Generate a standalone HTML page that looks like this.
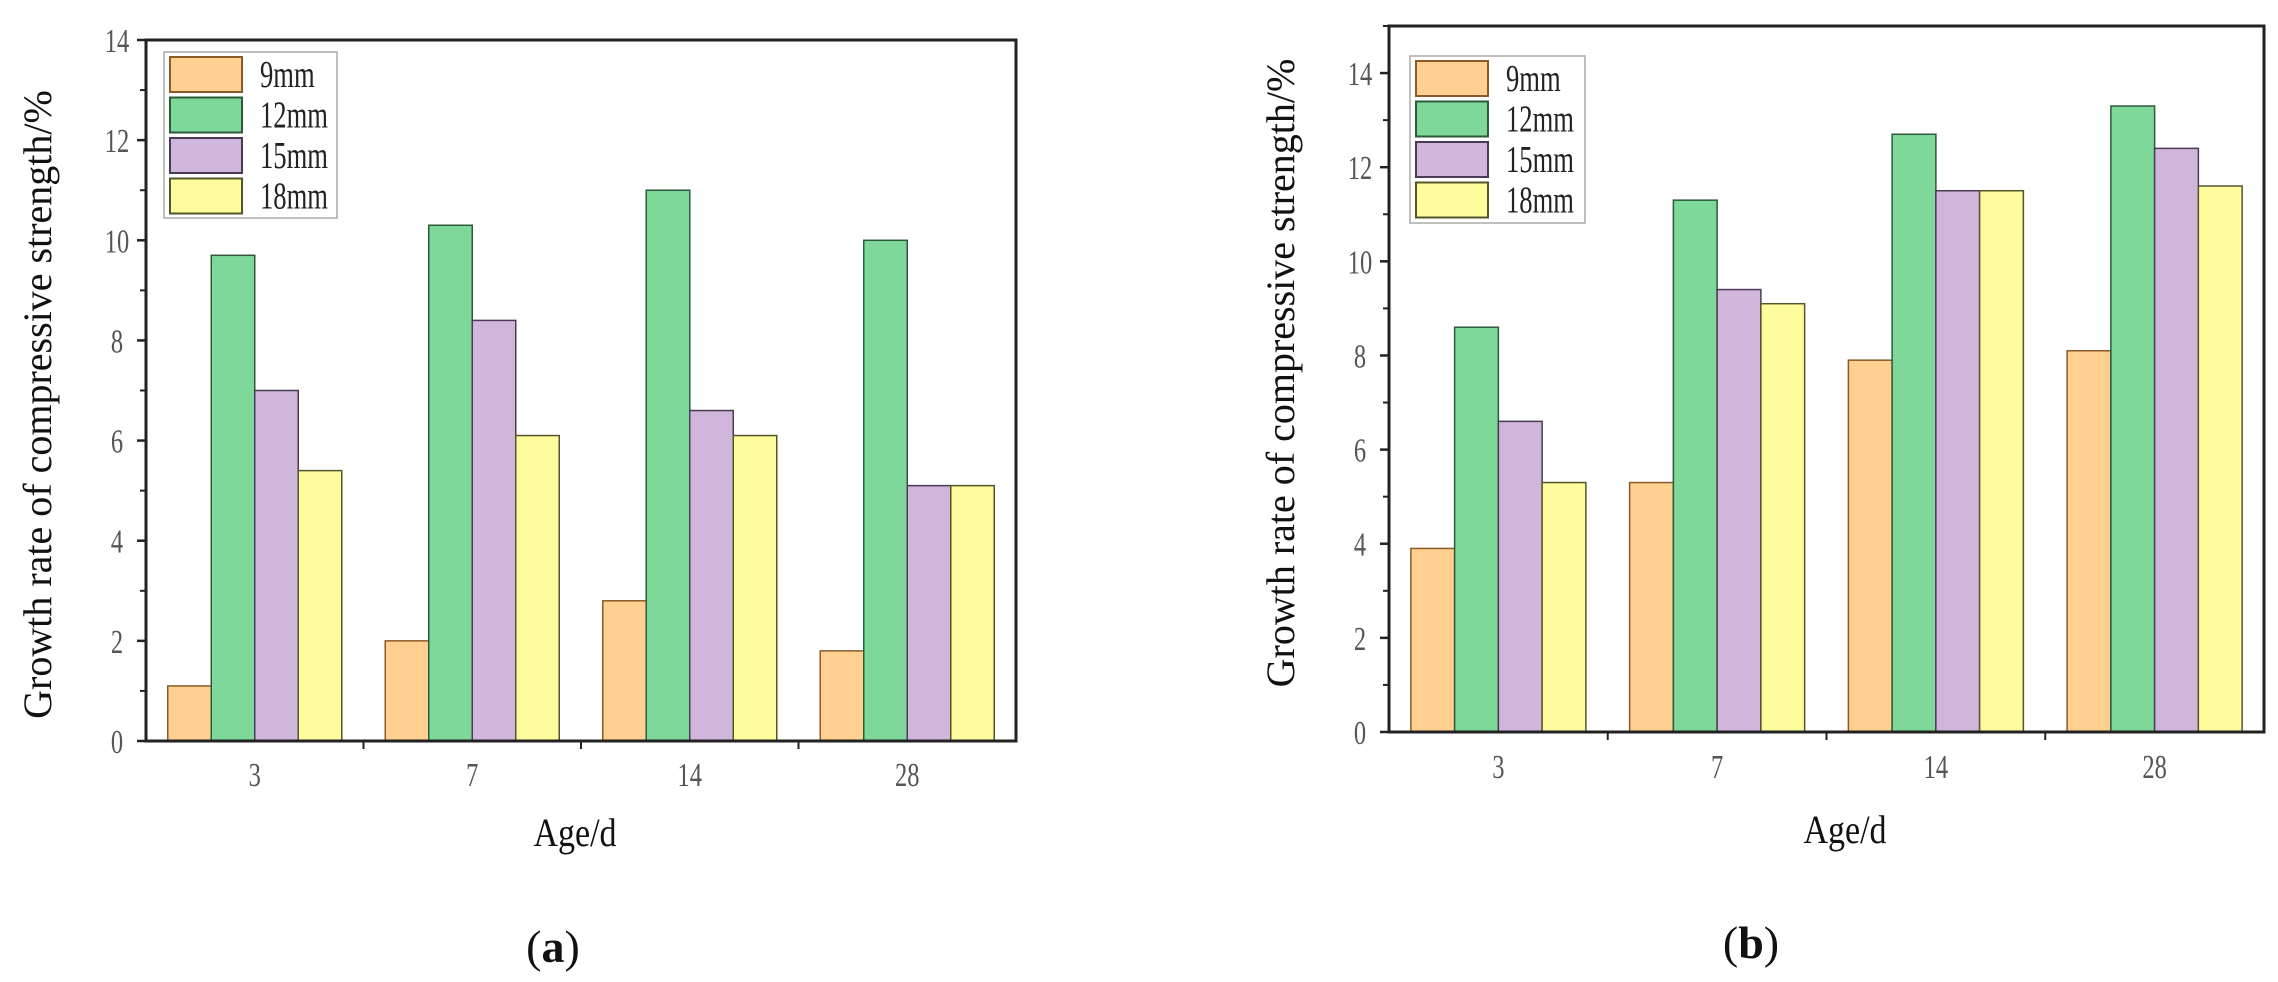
<!DOCTYPE html>
<html><head><meta charset="utf-8"><style>
html,body{margin:0;padding:0;background:#fff;}
svg{display:block;}
text{font-family:"Liberation Serif",serif;}
</style></head><body>
<svg id="fig" width="2278" height="982" viewBox="0 0 2278 982" xmlns="http://www.w3.org/2000/svg"></svg>
<script>
const categories = ["3","7","14","28"];
const seriesNames = ["9mm","12mm","15mm","18mm"];
const yTicks = [0,2,4,6,8,10,12,14];
const a9 = [1.1,2.0,2.8,1.8];
const a12 = [9.7,10.3,11.0,10.0];
const a15 = [7.0,8.4,6.6,5.1];
const a18 = [5.4,6.1,6.1,5.1];
const b9 = [3.9,5.3,7.9,8.1];
const b12 = [8.6,11.3,12.7,13.3];
const b15 = [6.6,9.4,11.5,12.4];
const b18 = [5.3,9.1,11.5,11.6];

const fills = ["#FFD090","#7DD89A","#D0B6DA","#FFFC9E"];
const strokes = ["#8a5a2a","#2e5a3a","#4a3a55","#55552a"];
const NS = "http://www.w3.org/2000/svg";
const svg = document.getElementById('fig');
function mk(tag, attrs, parent){ const e=document.createElementNS(NS,tag); for(const k in attrs) e.setAttribute(k,attrs[k]); (parent||svg).appendChild(e); return e; }

function chart(id, L, R, T, B, ymax, series, legend, titleX, titleDy, ageX, ageY, capX, capY, capText, ytlX, xtlY){
  const g = mk('g',{});
  
  
  const y = v => B - v/ymax*(B-T);
  const gw = (R-L)/categories.length;
  const xc = i => L + gw*(i+0.5);
  const bw = gw*0.2;
  series.forEach((vals, s) => {
    vals.forEach((v, i) => {
      const x0 = xc(i) - gw*0.4 + s*bw;
      const r = mk('rect',{x:x0,y:y(v),width:bw,height:B-y(v),fill:fills[s],stroke:strokes[s],'stroke-width':1.5},g);
      
      
    });
  });
  const f = mk('rect',{x:L,y:T,width:R-L,height:B-T,fill:'none',stroke:'#222','stroke-width':3},g);
  
  
  yTicks.forEach(t => {
    if (t > ymax) return;
    mk('line',{x1:L-9,x2:L,y1:y(t),y2:y(t),stroke:'#222','stroke-width':2.5},g);
    const tl = mk('text',{x:ytlX,y:y(t)+12,'font-size':34,fill:'#555','text-anchor':'middle',transform:`translate(${ytlX},0) scale(0.72,1) translate(${-ytlX},0)`},g);
    tl.textContent = t;
    
    
    if (t+1 <= ymax) mk('line',{x1:L-6,x2:L,y1:y(t+1),y2:y(t+1),stroke:'#222','stroke-width':2},g);
  });
  categories.forEach((c,i) => {
    if (i>0) mk('line',{x1:L+gw*i,x2:L+gw*i,y1:B,y2:B+8,stroke:'#222','stroke-width':2},g);
    const tl = mk('text',{x:xc(i),y:xtlY,'font-size':34,fill:'#555','text-anchor':'middle',transform:`translate(${xc(i)},0) scale(0.72,1) translate(${-xc(i)},0)`},g);
    tl.textContent = c;
    
    
  });
  const cy = (T+B)/2 + titleDy;
  const yt = mk('text',{x:titleX,y:cy,'font-size':40,fill:'#111','text-anchor':'middle',transform:`rotate(-90 ${titleX} ${cy})`,dy:13},g);
  yt.textContent = 'Growth rate of compressive strength/%';
  
  
  const xt = mk('text',{x:ageX,y:ageY,'font-size':40,fill:'#111','text-anchor':'middle',transform:`translate(${ageX},0) scale(0.85,1) translate(${-ageX},0)`},g);
  xt.textContent = 'Age/d';
  
  
  const cap = mk('text',{x:capX,y:capY,'font-size':46,fill:'#111','text-anchor':'middle'},g);
  cap.innerHTML = '(<tspan font-weight="bold">'+capText+'</tspan>)';
  
  
  const lg = mk('g',{},g);
  
  
  mk('rect',{x:legend.x,y:legend.y,width:legend.w,height:legend.h,fill:'#fff',stroke:'#aaa','stroke-width':1.5},lg);
  seriesNames.forEach((n,s) => {
    const ry = legend.y + 5 + s*40.5;
    const e = mk('g',{},lg);
    
    
    mk('rect',{x:legend.x+6,y:ry,width:72,height:35,fill:fills[s],stroke:strokes[s],'stroke-width':2},e);
    const tx = legend.x+96;
    const t = mk('text',{x:tx,y:ry+30,'font-size':38,fill:'#222',transform:`translate(${tx},0) scale(0.7,1) translate(${-tx},0)`},e);
    t.textContent = n;
  });
}

chart('a',146,1016,40,741,14,[a9,a12,a15,a18],{x:164,y:52,w:173,h:166},38,14,575,846,553,962,'a',117,786);
chart('b',1389,2264,26,732,15,[b9,b12,b15,b18],{x:1410,y:56,w:175,h:167},1281,-6,1845,843,1751,958,'b',1360,778);
</script>
</body></html>
